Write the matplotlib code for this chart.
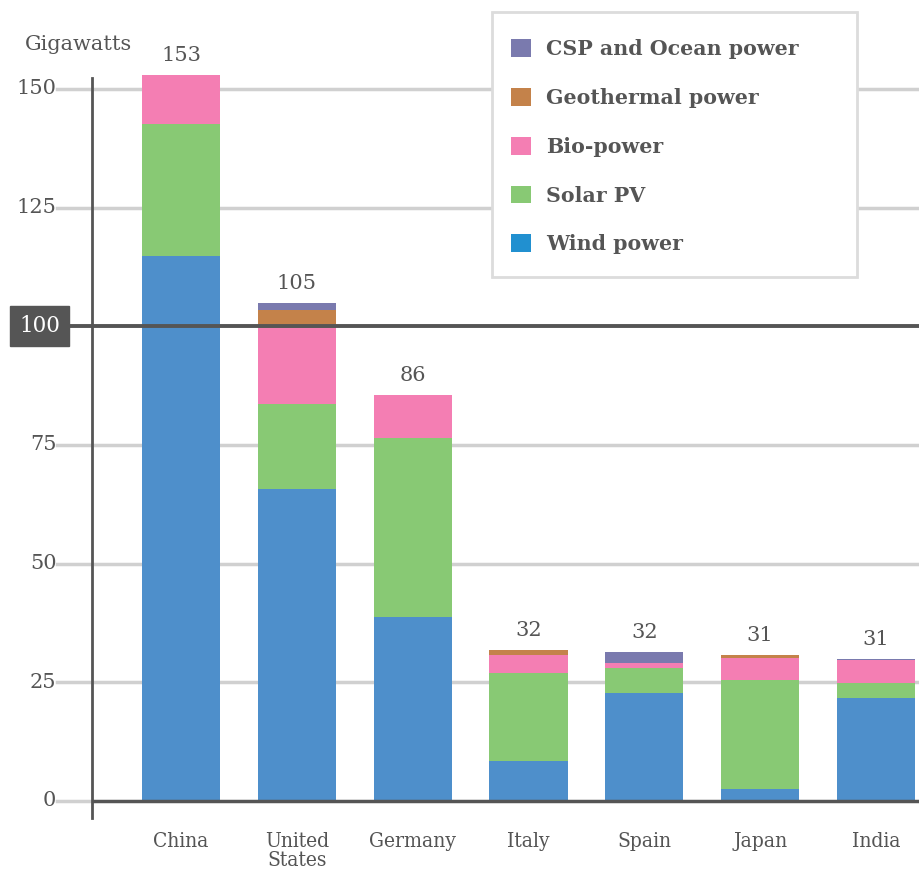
import numpy as np
import matplotlib
matplotlib.use("Agg")
import matplotlib.pyplot as plt
import matplotlib.transforms as mtransforms
from matplotlib.patches import Rectangle

countries = ["China", "United\nStates", "Germany", "Italy", "Spain", "Japan", "India"]
totals = ["153", "105", "86", "32", "32", "31", "31"]

wind = [114.8, 65.7, 38.8, 8.4, 22.8, 2.5, 21.7]
solar = [27.8, 17.9, 37.7, 18.6, 5.2, 23.0, 3.2]
bio = [10.3, 16.0, 9.0, 3.8, 1.1, 4.6, 4.8]
geothermal = [0.0, 3.8, 0.0, 1.0, 0.0, 0.6, 0.0]
csp_ocean = [0.0, 1.5, 0.0, 0.0, 2.3, 0.0, 0.3]

series = [
    ("Wind power", wind, "#4e8fcb"),
    ("Solar PV", solar, "#88c974"),
    ("Bio-power", bio, "#f47eb3"),
    ("Geothermal power", geothermal, "#c4824a"),
    ("CSP and Ocean power", csp_ocean, "#7a7aae"),
]

grey = "#555555"
serif = "DejaVu Serif"

fig = plt.figure(figsize=(9.2, 8.74), dpi=100)
ax = fig.add_axes([92 / 920, 1 - 818 / 874, 1 - 92 / 920, (818 - 78) / 874])

x = np.arange(len(countries))
bottom = np.zeros(len(countries))
handles = []
for name, vals, col in series:
    vals = np.array(vals)
    b = ax.bar(x, vals, 0.674, bottom=bottom, color=col, label=name,
               zorder=3, clip_on=False)
    handles.append(b)
    bottom += vals

ax.set_xlim(-0.769, 6.38)
ax.set_ylim(-3.6, 152.3)

# gridlines, running on under the tick labels
for yv in [25, 50, 75, 125, 150]:
    ax.axhline(yv, xmin=-0.042, xmax=1, color="#d0d0d0", lw=2.5,
               zorder=1, clip_on=False)
ax.axhline(0, xmin=-0.042, xmax=0, color="#d0d0d0", lw=2.5, zorder=1,
           clip_on=False)
ax.axhline(0, color=grey, lw=2.5, zorder=4)
ax.axhline(100, xmin=-0.03, xmax=1, color=grey, lw=2.8, zorder=4,
           clip_on=False)

for sp_name in ["top", "right", "bottom"]:
    ax.spines[sp_name].set_visible(False)
ax.spines["left"].set_color(grey)
ax.spines["left"].set_linewidth(2)
ax.spines["left"].set_zorder(5)

trans = mtransforms.blended_transform_factory(ax.transAxes, ax.transData)
ax.set_yticks([])
for yv in [0, 25, 50, 75, 125, 150]:
    ax.text(-0.043, yv, str(yv), transform=trans, ha="right", va="center",
            fontsize=15, family=serif, color=grey)
ax.text(-0.0634, 100, "100", transform=trans, ha="center", va="center",
        fontsize=15.5, family=serif, color="white",
        bbox=dict(boxstyle="square,pad=0.42", fc=grey, ec=grey))

ax.set_xticks(x)
ax.set_xticklabels(countries, fontsize=15, family=serif, fontstretch="condensed",
                   color=grey, linespacing=1.02, va="top")
ax.tick_params(axis="x", length=0, pad=10)

for i, t in enumerate(totals):
    ax.annotate(t, (x[i], bottom[i]), xytext=(0, 14), textcoords="offset points",
                ha="center", va="center", fontsize=15, family=serif, color=grey,
                annotation_clip=False)

fig.text(25 / 920, 1 - 45 / 874, "Gigawatts", ha="left", va="center",
         fontsize=15, family=serif, color=grey)

# legend box drawn by hand so its size matches
fig.patches.append(Rectangle((492 / 920, 1 - 277 / 874), (857 - 492) / 920,
                             (277 - 12) / 874, transform=fig.transFigure,
                             fc="white", ec="#dcdcdc", lw=2, zorder=5))
leg = fig.legend(handles[::-1], [s[0] for s in series][::-1],
                 loc="upper left", bbox_to_anchor=(505 / 920, 1 - 33 / 874),
                 borderaxespad=0, frameon=False,
                 prop=dict(family=serif, weight="bold", size=14.8),
                 handlelength=0.95, handleheight=0.95, handletextpad=0.75,
                 labelspacing=1.4, borderpad=0.3)
leg.set_zorder(6)
for txt in leg.get_texts():
    txt.set_color(grey)
leg.legend_handles[-1].set_facecolor("#2190d0")

fig.savefig("out.png", dpi=100)
